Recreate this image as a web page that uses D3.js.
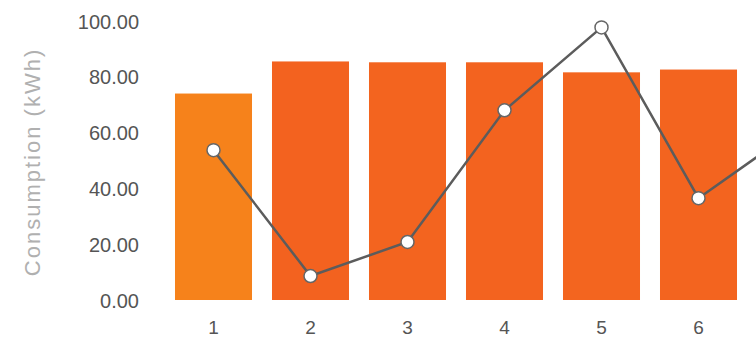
<!DOCTYPE html>
<html>
<head>
<meta charset="utf-8">
<script src="https://cdn.jsdelivr.net/npm/d3@7/dist/d3.min.js"></script>
<style>
  html, body { margin: 0; padding: 0; background: #fff; }
  svg { display: block; font-family: "Liberation Sans", Arial, Helvetica, sans-serif; }
</style>
</head>
<body>
<svg id="chart" width="756" height="341"></svg>
<script>
const categories = ["1", "2", "3", "4", "5", "6", "7"];
const visibleTickLabels = ["1", "2", "3", "4", "5", "6"];
const barValues = [74.0, 85.5, 85.2, 85.2, 81.6, 82.6, 80.0];
const lineValues = [53.7, 8.6, 20.8, 68.0, 97.7, 36.5, 61.0];
const yTicks = [0, 20, 40, 60, 80, 100];
const barColors = ["#f6821b", "#f3621f", "#f3641f", "#f3631f", "#f3651f", "#f3641f", "#f3641f"];

const svg = d3.select("#chart");

const y = d3.scaleLinear().domain([0, 100]).range([300, 21]);
const x = d3.scaleBand().domain(categories).range([165, 844]).paddingInner(0.206).paddingOuter(0.103);

// y axis
const yAxis = svg.append("g").attr("transform", "translate(139,0)")
  .call(d3.axisLeft(y).tickValues(yTicks).tickFormat(d3.format(".2f")).tickSize(0).tickPadding(0));
yAxis.select(".domain").remove();
yAxis.selectAll("text").attr("fill", "#555").style("font-size", "20px").attr("dy", "0.35em");

// y label
svg.append("text")
  .attr("transform", "translate(40,162) rotate(-90)")
  .attr("text-anchor", "middle")
  .attr("fill", "#b0b0b0")
  .style("font-size", "22px")
  .style("letter-spacing", "2px")
  .text("Consumption (kWh)");

// bars
svg.append("g").selectAll("rect").data(categories).join("rect")
  .attr("x", d => x(d))
  .attr("y", (d, i) => y(barValues[i]))
  .attr("width", x.bandwidth())
  .attr("height", (d, i) => y(0) - y(barValues[i]))
  .attr("fill", (d, i) => barColors[i]);

// x axis
const xAxis = svg.append("g").attr("transform", "translate(0,300)")
  .call(d3.axisBottom(x).tickValues(visibleTickLabels).tickSize(0).tickPadding(21));
xAxis.select(".domain").remove();
xAxis.selectAll("text").attr("fill", "#555").style("font-size", "19px");

// line
const line = d3.line().x((d, i) => x(categories[i]) + x.bandwidth() / 2).y(d => y(d));
svg.append("path").datum(lineValues)
  .attr("d", line)
  .attr("fill", "none")
  .attr("stroke", "#5c5c5c")
  .attr("stroke-width", 2.5);

svg.append("g").selectAll("circle").data(lineValues).join("circle")
  .attr("cx", (d, i) => x(categories[i]) + x.bandwidth() / 2)
  .attr("cy", d => y(d))
  .attr("r", 6.5)
  .attr("fill", "#fff")
  .attr("stroke", "#666")
  .attr("stroke-width", 1.5);
</script>
</body>
</html>
